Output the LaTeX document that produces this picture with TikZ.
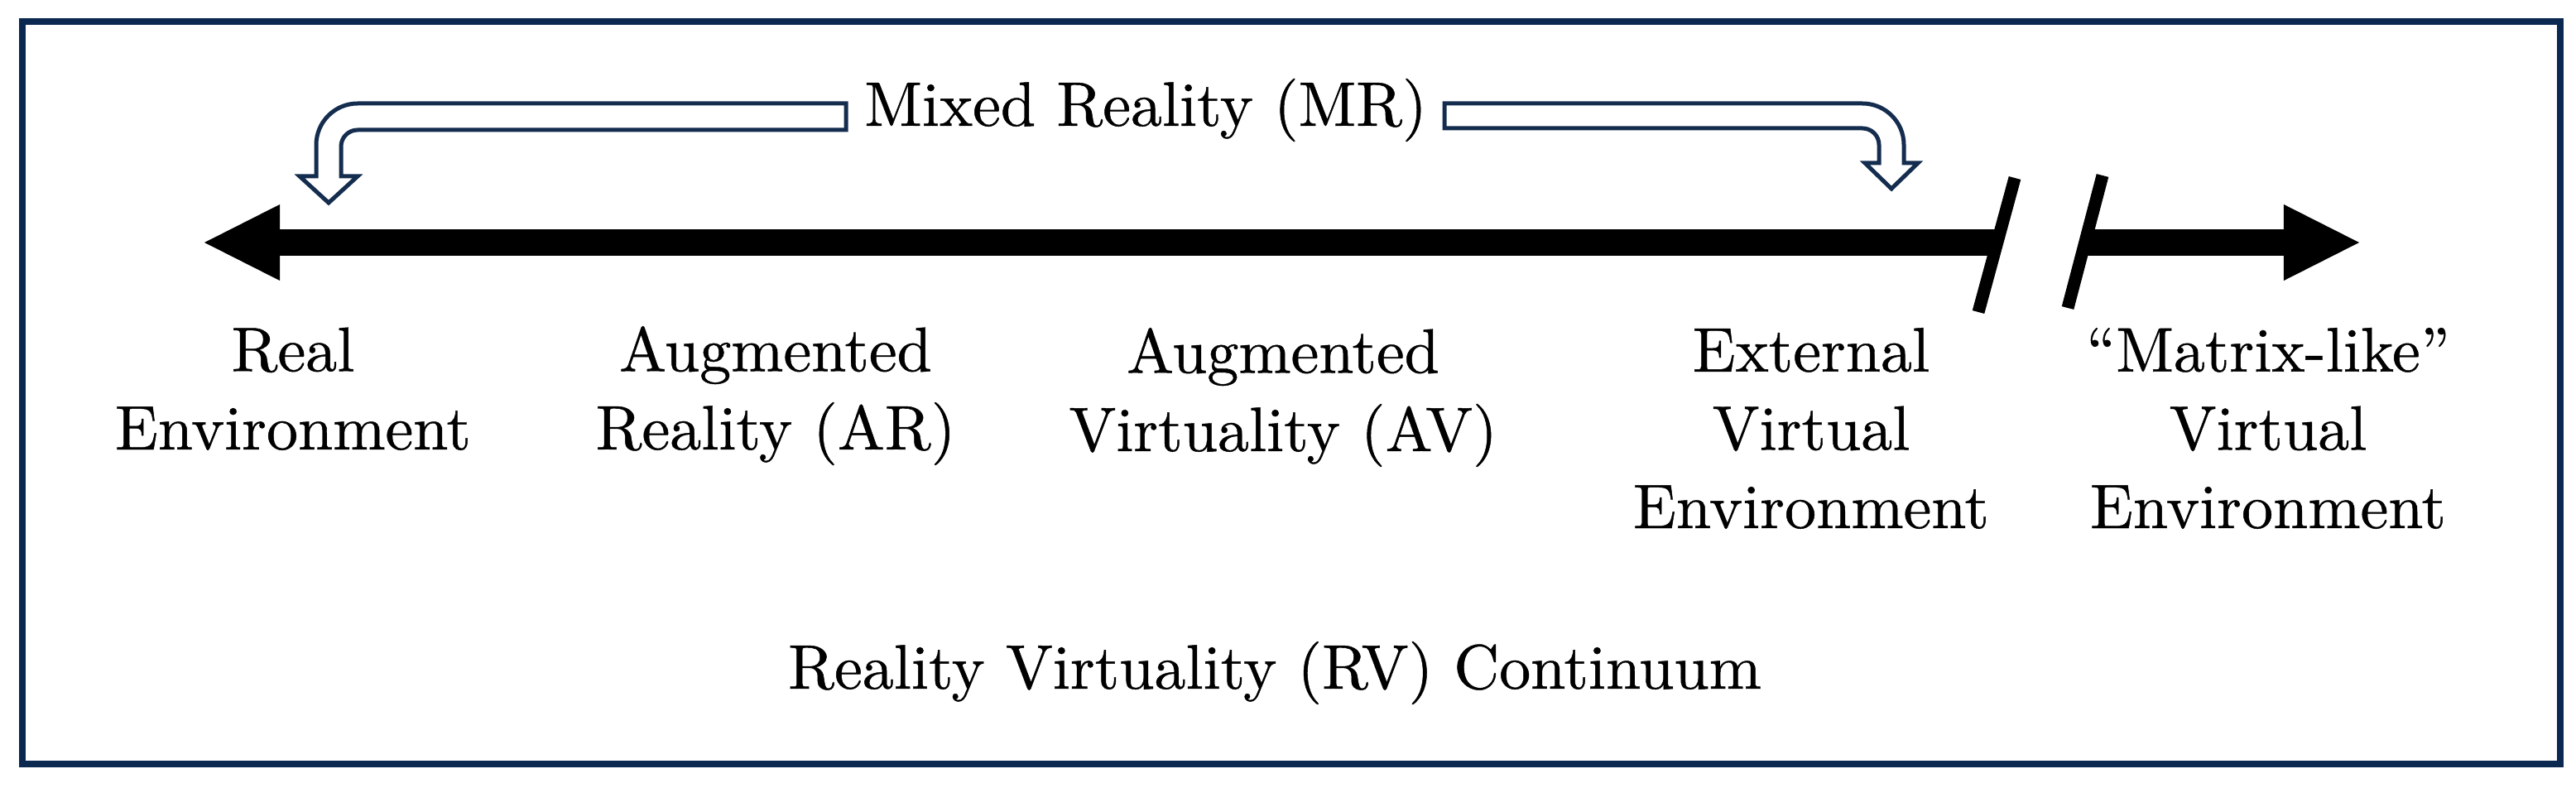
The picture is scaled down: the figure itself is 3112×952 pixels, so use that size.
\documentclass[tikz,border=0pt]{standalone}
\usepackage{fontspec}
\newfontfamily\lblfont{lmroman10-regular.otf}[FakeBold=0.6]
\usetikzlibrary{arrows.meta}
\definecolor{framenavy}{RGB}{10,40,80}
\definecolor{arrownavy}{RGB}{20,45,78}
\begin{document}
\begin{tikzpicture}[x=0.01cm,y=-0.01cm,
  lbl/.style={font=\lblfont\fontsize{21.6pt}{26.9pt}\selectfont, align=center, inner sep=0pt, anchor=base},
  framebox/.style={draw=framenavy, line width=0.08cm},
  axisline/.style={line width=0.31cm, black},
  axistip/.style={-{Triangle[length=0.91cm,width=0.92cm,line width=0pt]}},
  slashline/.style={line width=0.15cm, black},
  hollow/.style={draw=arrownavy, line width=0.05cm, fill=white, line join=miter}]
\useasboundingbox (0,0) rectangle (3112,952);
\draw[framebox] (27,26) rectangle (3093,923);

% main axis
\coordinate (Ltip) at (247,293);
\coordinate (Bl) at (2413,293);
\coordinate (Br) at (2519,293);
\coordinate (Rtip) at (2850,293);
\draw[axisline, axistip] (Bl) -- (Ltip);
\draw[axisline, axistip] (Br) -- (Rtip);

% break marks
\coordinate (s1a) at (2390,377);
\coordinate (s1b) at (2434,215);
\coordinate (s2a) at (2498,372);
\coordinate (s2b) at (2540,212);
\draw[slashline] (s1a) -- (s1b);
\draw[slashline] (s2a) -- (s2b);

% hollow MR arrows
\filldraw[hollow] (1022,125) -- (432,125) .. controls (404.4,125) and (382,147.4) .. (382,175)
  -- (382,213) -- (362,213) -- (397,245) -- (432,213) -- (412,213) -- (412,177)
  .. controls (412,166) and (421,157) .. (432,157) -- (1022,157) -- cycle;
\filldraw[hollow] (1745,125) -- (2250,125) .. controls (2277.6,125) and (2300,147.4) .. (2300,175)
  -- (2300,197) -- (2317,197) -- (2285,228) -- (2253,197) -- (2270,197) -- (2270,175)
  .. controls (2270,164) and (2261,155) .. (2250,155) -- (1745,155) -- cycle;

% labels (anchor = baseline of last line)
\node[lbl] (mr) at (1384,152) {Mixed Reality (MR)};
\node[lbl] (real) at (354,543) {Real\\Environment};
\node[lbl] (ar) at (937,543) {Augmented\\Reality (AR)};
\node[lbl] (av) at (1550,545) {Augmented\\Virtuality (AV)};
\node[lbl] (eve) at (2188,638) {External\\Virtual\\Environment};
\node[lbl] (mve) at (2740,638) {“Matrix-like”\\Virtual\\Environment};
\node[lbl] (rv) at (1540,832) {Reality Virtuality (RV) Continuum};
\end{tikzpicture}
\end{document}
